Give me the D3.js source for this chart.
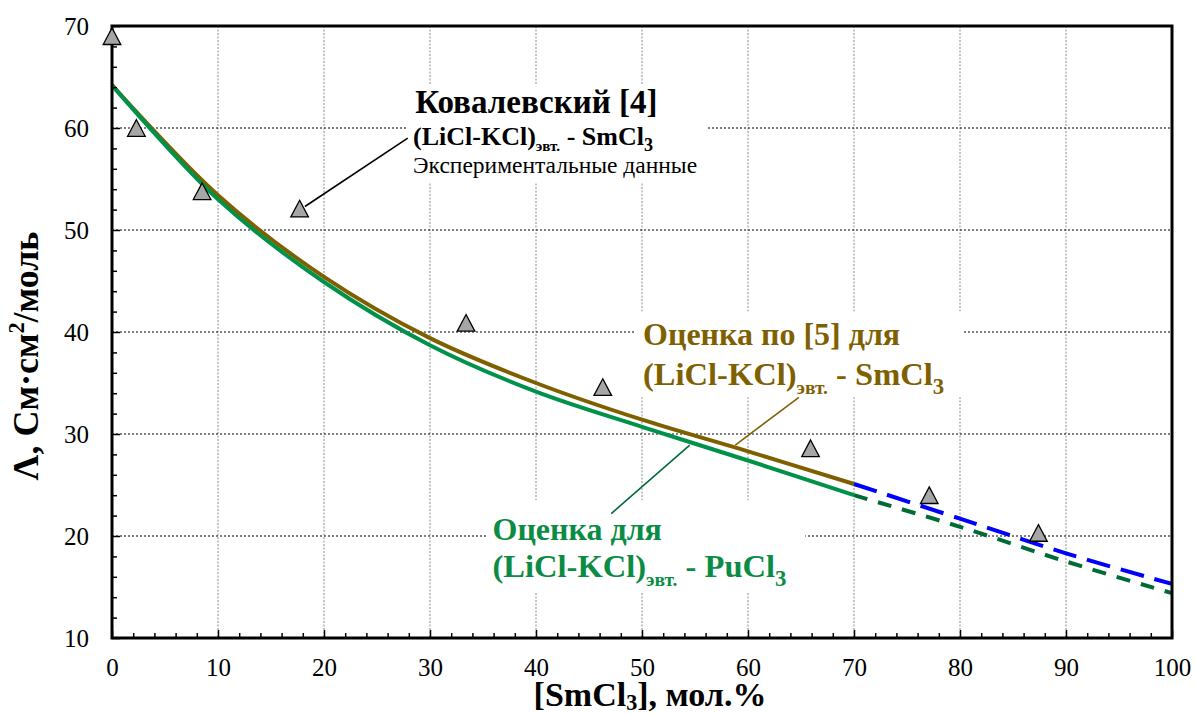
<!DOCTYPE html>
<html>
<head>
<meta charset="utf-8">
<script src="https://cdn.jsdelivr.net/npm/d3@7"></script>
<style>
  body { margin: 0; background: #fff; }
</style>
</head>
<body>
<svg id="chart" width="1196" height="714" font-family="Liberation Serif"></svg>
<script>
// Molar conductivity of (LiCl-KCl)eut.-MCl3 melts against MCl3 content

// Estimated curves (solid part, 0–70 mol.%)
const concSolid   = [0, 10, 20, 30, 40, 50, 60, 70];
const smEstimate  = [64.2, 53.4, 45.4, 39.4, 35.0, 31.4, 28.3, 25.1];
const puEstimate  = [64.2, 53.0, 44.9, 38.7, 34.15, 30.7, 27.4, 24.0];

// Extrapolated part (70–100 mol.%)
const concExtra       = [70, 80, 90, 100];
const smExtrapolated  = [25.1, 21.7, 18.3, 15.3];
const puExtrapolated  = [24.0, 20.9, 17.5, 14.4];

// Experimental points, Kovalevsky [4]
const expConc   = [0, 2.3, 8.5, 17.7, 33.4, 46.3, 65.9, 77.1, 87.4];
const expLambda = [69.0, 60.0, 53.8, 52.1, 40.9, 34.6, 28.6, 24.0, 20.3];

// Axis ticks
const xTicks = [0, 10, 20, 30, 40, 50, 60, 70, 80, 90, 100];
const yTicks = [10, 20, 30, 40, 50, 60, 70];
const xMinor = d3.range(0, 101, 2).filter(v => v % 10 !== 0);
const yMinor = d3.range(10, 71, 2).filter(v => v % 10 !== 0);

const FONTS = ["Liberation Serif"];
const C = {
  brown: "#7F6000",
  green: "#00914A",
  greenText: "#0B8C45",
  greenDark: "#006B36",
  blue: "#0000FF",
  marker: "#A6A6A6"
};

const M = { left: 112, right: 1172, top: 26, bottom: 638 };
const svg = d3.select("#chart");
const x = d3.scaleLinear().domain([0, 100]).range([M.left, M.right]);
const y = d3.scaleLinear().domain([10, 70]).range([M.bottom, M.top]);

// Rich text helper: parts with optional sub / sup
function rich(g, px, py, parts, size, weight, color, anchor, subShift) {
  const t = g.append("text")
    .attr("x", px).attr("y", py)
    .attr("font-family", () => FONTS[0])
    .attr("font-size", size)
    .attr("font-weight", weight)
    .attr("text-anchor", anchor || "start")
    .attr("fill", color);
  let shift = 0;
  const down = subShift || 0.27;
  parts.forEach(p => {
    const target = p.sub ? size * down : (p.sup ? -size * 0.38 : 0);
    const s = t.append("tspan").attr("dy", target - shift).text(p.t);
    if (p.sub || p.sup) s.attr("font-size", size * (p.scale || 0.62));
    shift = target;
  });
  return t;
}

// White background of a label, given in data units
function box(g, x0, x1, y0, y1) {
  g.append("rect")
    .attr("x", x(x0)).attr("y", y(y0))
    .attr("width", x(x1) - x(x0)).attr("height", y(y1) - y(y0))
    .attr("fill", "#fff");
}

function draw() {
  svg.selectAll("*").remove();

  // Grid
  const grid = svg.append("g");
  grid.selectAll("line.v").data(xTicks.slice(1, -1)).join("line")
    .attr("x1", d => x(d)).attr("x2", d => x(d))
    .attr("y1", M.top).attr("y2", M.bottom)
    .attr("stroke", "#8a8a8a").attr("stroke-width", 1).attr("stroke-dasharray", "2,1.5");
  grid.selectAll("line.h").data(yTicks.slice(1, -1)).join("line")
    .attr("x1", M.left).attr("x2", M.right)
    .attr("y1", d => y(d)).attr("y2", d => y(d))
    .attr("stroke", "#000").attr("stroke-width", 1).attr("stroke-dasharray", "2,2");

  // Label: experimental data
  const gExp = svg.append("g");
  box(gExp, 27.8, 56.2, 64.3, 54.6);
  rich(gExp, x(28.6), y(61.45), [{ t: "Ковалевский [4]" }], 33, "bold", "#000");
  rich(gExp, x(28.4), y(58.3), [
    { t: "(LiCl-KCl)" }, { t: "эвт.", sub: true, scale: 0.58 }, { t: " - SmCl" }, { t: "3", sub: true, scale: 0.7 }
  ], 26, "bold", "#000", "start", 0.2);
  rich(gExp, x(28.4), y(55.6), [{ t: "Экспериментальные данные" }], 23.5, "normal", "#000");

  // Label: SmCl3 estimate
  const gSm = svg.append("g");
  box(gSm, 49.3, 80.3, 42.0, 33.6);
  rich(gSm, x(50.1), y(38.75), [{ t: "Оценка по [5] для" }], 32, "bold", C.brown);
  rich(gSm, x(50.1), y(34.8), [
    { t: "(LiCl-KCl)" }, { t: "эвт.", sub: true, scale: 0.6 }, { t: " - SmCl" }, { t: "3", sub: true, scale: 0.7 }
  ], 32.5, "bold", C.brown);

  // Label: PuCl3 estimate
  const gPu = svg.append("g");
  box(gPu, 35.4, 65.4, 23.5, 14.5);
  rich(gPu, x(35.9), y(19.6), [{ t: "Оценка для" }], 32, "bold", C.greenText);
  rich(gPu, x(35.9), y(16.0), [
    { t: "(LiCl-KCl)" }, { t: "эвт.", sub: true, scale: 0.6 }, { t: " - PuCl" }, { t: "3", sub: true, scale: 0.7 }
  ], 32.5, "bold", C.greenText);

  // Curves
  const line = d3.line().x(d => x(d[0])).y(d => y(d[1])).curve(d3.curveCatmullRom.alpha(0.5));
  const plot = svg.append("g");
  plot.append("path").datum(d3.zip(concSolid, smEstimate)).attr("d", line)
    .attr("fill", "none").attr("stroke", C.brown).attr("stroke-width", 4);
  plot.append("path").datum(d3.zip(concSolid, puEstimate)).attr("d", line)
    .attr("fill", "none").attr("stroke", C.green).attr("stroke-width", 4);
  plot.append("path").datum(d3.zip(concExtra, smExtrapolated)).attr("d", line)
    .attr("fill", "none").attr("stroke", C.blue).attr("stroke-width", 4)
    .attr("stroke-dasharray", "24,11");
  plot.append("path").datum(d3.zip(concExtra, puExtrapolated)).attr("d", line)
    .attr("fill", "none").attr("stroke", C.greenDark).attr("stroke-width", 4)
    .attr("stroke-dasharray", "14,11");

  // Leader lines
  const leaders = svg.append("g");
  leaders.append("line")
    .attr("x1", x(27.9)).attr("y1", y(59.0)).attr("x2", x(18.2)).attr("y2", y(52.3))
    .attr("stroke", "#000").attr("stroke-width", 1.6);
  leaders.append("line")
    .attr("x1", x(64.8)).attr("y1", y(33.6)).attr("x2", x(58.8)).attr("y2", y(28.9))
    .attr("stroke", C.brown).attr("stroke-width", 1.6);
  leaders.append("line")
    .attr("x1", x(54.5)).attr("y1", y(28.9)).attr("x2", x(47.1)).attr("y2", y(22.2))
    .attr("stroke", C.greenDark).attr("stroke-width", 1.6);

  // Axes
  const ax = svg.append("g").attr("transform", `translate(0,${M.bottom})`)
    .call(d3.axisBottom(x).tickValues(xTicks).tickSizeInner(-8).tickSizeOuter(0).tickPadding(20));
  const axm = svg.append("g").attr("transform", `translate(0,${M.bottom})`)
    .call(d3.axisBottom(x).tickValues(xMinor).tickSizeInner(-5).tickSizeOuter(0).tickFormat(""));
  const ay = svg.append("g").attr("transform", `translate(${M.left},0)`)
    .call(d3.axisLeft(y).tickValues(yTicks).tickSizeInner(-8).tickSizeOuter(0).tickPadding(23));
  const aym = svg.append("g").attr("transform", `translate(${M.left},0)`)
    .call(d3.axisLeft(y).tickValues(yMinor).tickSizeInner(-5).tickSizeOuter(0).tickFormat(""));
  [ax, axm, ay, aym].forEach(a => {
    a.attr("font-family", () => FONTS[0]).attr("font-size", 25);
    a.select(".domain").remove();
    a.selectAll(".tick line").attr("stroke", "#000").attr("stroke-width", 1.5);
    a.selectAll(".tick text")
      .attr("font-family", () => FONTS[0])
      .attr("font-size", 25)
      .attr("fill", "#000");
  });

  // Frame
  svg.append("rect")
    .attr("x", M.left).attr("y", M.top)
    .attr("width", M.right - M.left).attr("height", M.bottom - M.top)
    .attr("fill", "none").attr("stroke", "#000").attr("stroke-width", 3);

  // Experimental markers (triangles), drawn above the frame
  const tri = "M0,-8.3L8.8,8.3L-8.8,8.3Z";
  svg.append("g").selectAll("path").data(d3.zip(expConc, expLambda)).join("path")
    .attr("d", tri)
    .attr("transform", d => `translate(${x(d[0])},${y(d[1])})`)
    .attr("fill", C.marker).attr("stroke", "#000").attr("stroke-width", 1.3);

  // Axis titles
  rich(svg, (M.left + M.right) / 2 + 8, 706, [
    { t: "[SmCl" }, { t: "3", sub: true, scale: 0.65 }, { t: "], мол.%" }
  ], 34, "bold", "#000", "middle", 0.12);

  const yTitle = svg.append("g").attr("transform", `translate(38,356) rotate(-90)`);
  rich(yTitle, 0, 0, [
    { t: "Λ, См·см" }, { t: "2", sup: true, scale: 0.62 }, { t: "/моль" }
  ], 36, "bold", "#000", "middle");
}

draw();
if (document.fonts && document.fonts.ready) document.fonts.ready.then(draw);
</script>
</body>
</html>
